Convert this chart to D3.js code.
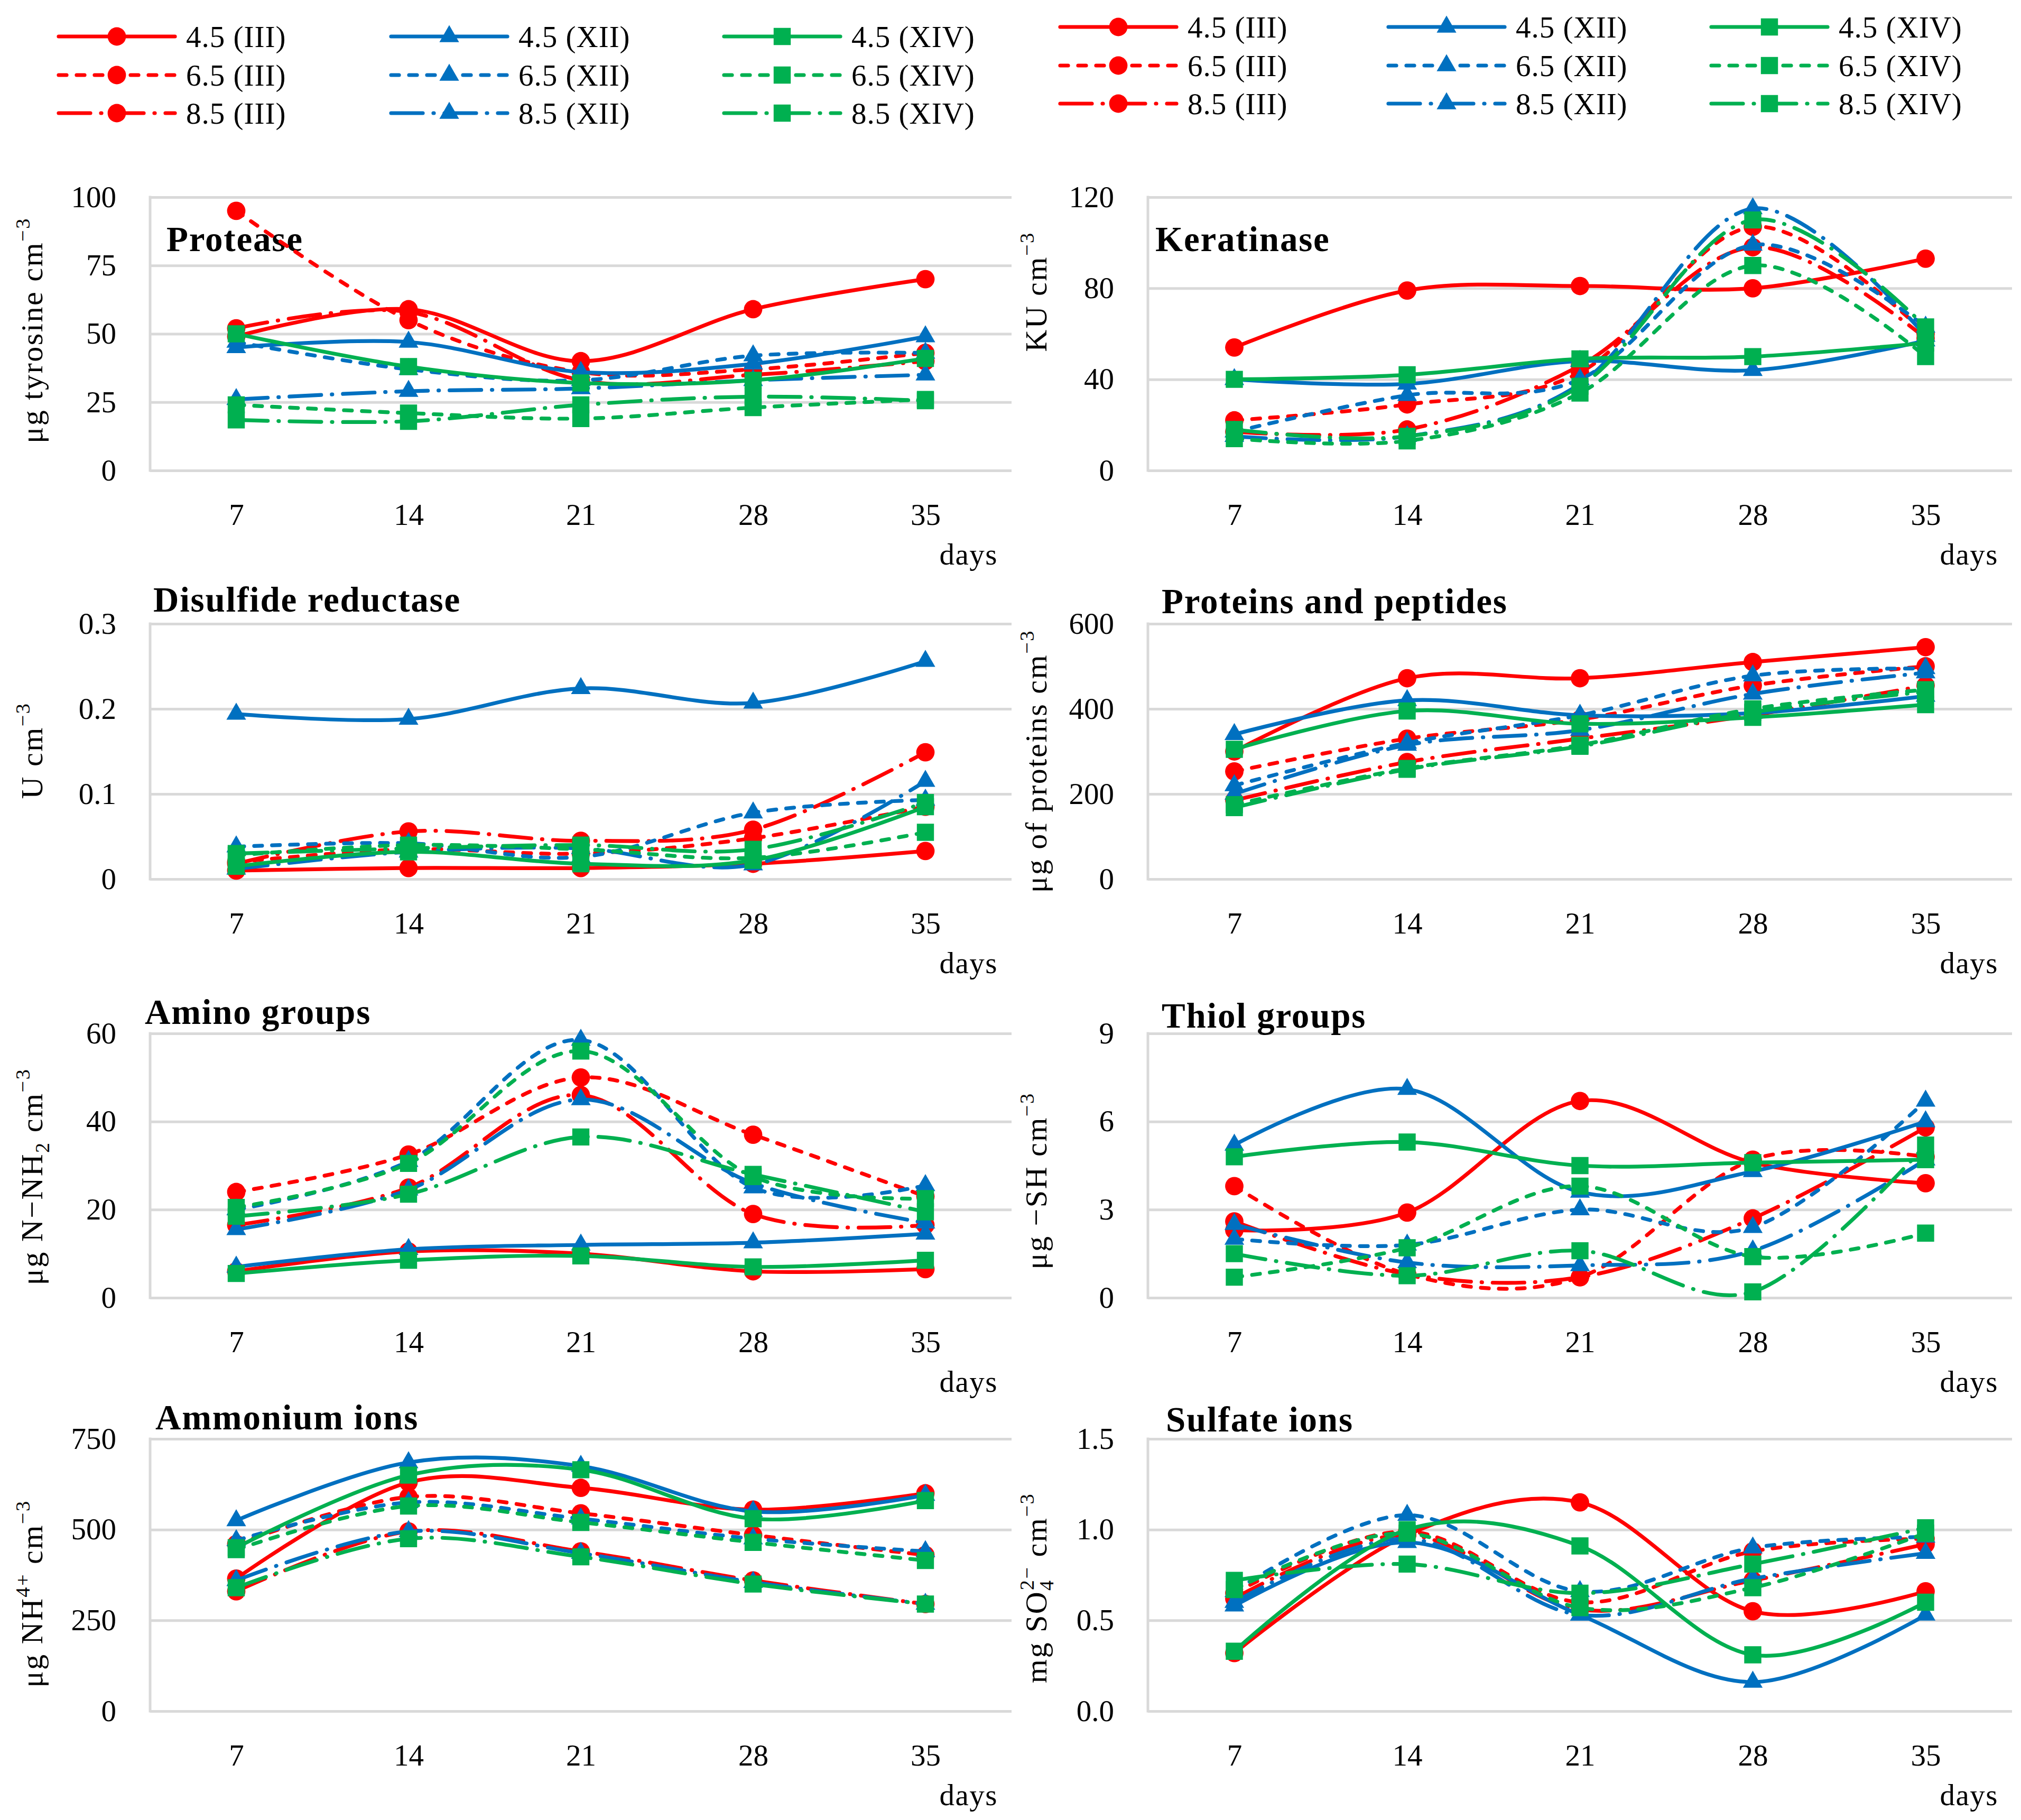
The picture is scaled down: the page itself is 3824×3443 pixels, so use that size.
<!DOCTYPE html>
<html>
<head>
<meta charset="utf-8">
<script src="https://cdn.jsdelivr.net/npm/d3@7"></script>
<style>
  body { margin: 0; background: #fff; }
  svg { display: block; }
  text { font-family: "Liberation Serif", "Times New Roman", serif; fill: #000; }
</style>
</head>
<body>
<div id="chart"></div>
<script>
// ---- data ----
const days = [7, 14, 21, 28, 35];

const seriesNames = [
  "4.5 (III)", "6.5 (III)", "8.5 (III)",
  "4.5 (XII)", "6.5 (XII)", "8.5 (XII)",
  "4.5 (XIV)", "6.5 (XIV)", "8.5 (XIV)"
];

// rows follow seriesNames
const protease = [
  [49, 59, 40, 59, 70],
  [95, 55, 36, 37, 43],
  [52, 58, 33, 35, 40],
  [45, 47, 36, 39, 49],
  [47, 37, 33, 42, 43],
  [26, 29, 30, 33, 35],
  [50, 38, 32, 33, 41],
  [24, 21, 19, 23, 26],
  [18.5, 18, 24, 27, 25.5]
];
const keratinase = [
  [54, 79, 81, 80, 93],
  [22, 29, 43, 107, 60],
  [17, 18, 46, 98, 58],
  [40, 38, 48, 44, 57],
  [17, 33, 40, 99, 63],
  [15, 15, 38, 115, 59],
  [40, 42, 49, 50, 56],
  [14, 13, 34, 90, 50],
  [18, 15, 37, 110, 63]
];
const disulfide = [
  [0.010, 0.013, 0.013, 0.018, 0.033],
  [0.020, 0.035, 0.030, 0.048, 0.085],
  [0.018, 0.056, 0.045, 0.058, 0.149],
  [0.194, 0.188, 0.224, 0.207, 0.256],
  [0.038, 0.042, 0.026, 0.078, 0.093],
  [0.012, 0.032, 0.036, 0.017, 0.115],
  [0.015, 0.032, 0.018, 0.022, 0.085],
  [0.028, 0.040, 0.035, 0.025, 0.055],
  [0.030, 0.036, 0.040, 0.035, 0.090]
];
const proteins = [
  [300, 472, 472, 510, 545],
  [253, 330, 375, 455, 500],
  [185, 275, 330, 385, 455],
  [340, 420, 385, 390, 430],
  [220, 320, 385, 478, 495],
  [200, 315, 350, 435, 485],
  [305, 395, 365, 380, 410],
  [175, 260, 315, 400, 445],
  [168, 258, 312, 392, 440]
];
const amino = [
  [6, 10.5, 10, 6, 6.5],
  [24, 32.5, 50, 37, 23],
  [16.5, 25, 46, 19, 16.5],
  [7, 11, 12, 12.5, 14.5],
  [20, 31, 58.5, 25, 25.5],
  [15.5, 24.5, 45, 26, 17],
  [5.5, 8.5, 9.5, 7, 8.5],
  [20.5, 30.5, 56, 27.5, 22.5],
  [18.5, 23.5, 36.5, 28, 19.5]
];
const thiol = [
  [2.3, 2.9, 6.7, 4.6, 3.9],
  [3.8, 0.8, 0.7, 4.7, 4.8],
  [2.6, 0.8, 0.7, 2.7, 5.8],
  [5.2, 7.1, 3.6, 4.3, 6.0],
  [2.0, 1.8, 3.0, 2.4, 6.7],
  [2.5, 1.2, 1.1, 1.6, 4.7],
  [4.8, 5.3, 4.5, 4.6, 4.7],
  [0.7, 1.7, 3.8, 1.4, 2.2],
  [1.5, 0.75, 1.6, 0.2, 5.2]
];
const ammonium = [
  [365, 630, 615, 555, 600],
  [460, 590, 545, 485, 430],
  [330, 495, 440, 360, 295],
  [525, 685, 675, 550, 595],
  [470, 575, 530, 475, 440],
  [360, 495, 435, 355, 295],
  [450, 650, 665, 530, 580],
  [445, 565, 520, 465, 415],
  [340, 475, 425, 350, 295]
];
const sulfate = [
  [0.32, 0.97, 1.15, 0.55, 0.66],
  [0.65, 0.99, 0.60, 0.88, 0.95],
  [0.62, 0.97, 0.56, 0.72, 0.92],
  [0.58, 0.93, 0.53, 0.16, 0.53],
  [0.66, 1.08, 0.66, 0.90, 0.96],
  [0.60, 0.95, 0.53, 0.73, 0.87],
  [0.33, 1.00, 0.91, 0.31, 0.60],
  [0.67, 0.98, 0.57, 0.68, 0.98],
  [0.72, 0.81, 0.65, 0.81, 1.01]
];

const proteaseTicks = [0, 25, 50, 75, 100];
const keratinaseTicks = [0, 40, 80, 120];
const disulfideTicks = [0, 0.1, 0.2, 0.3];
const proteinsTicks = [0, 200, 400, 600];
const aminoTicks = [0, 20, 40, 60];
const thiolTicks = [0, 3, 6, 9];
const ammoniumTicks = [0, 250, 500, 750];
const sulfateTicks = [0, 0.5, 1.0, 1.5];

// ---- styles ----
const colors = ["#FF0000", "#0070C0", "#00B050"];   // III, XII, XIV
const dashes = [null, "15 19", "60 20 1 20"];       // pH 4.5, 6.5, 8.5
const markers = [d3.symbolCircle, d3.symbolTriangle, d3.symbolSquare];
const markerSizes = [950, 600, 1050];
const lineW = 7.2;

const W = 3824, H = 3443;
const cols = [{ x: 284, w: 1630 }, { x: 2172, w: 1635 }];
const rows = [[373, 890], [1180, 1663], [1955, 2455], [2722, 3237]];

const panels = [
  { data: protease, ticks: proteaseTicks, fmt: d3.format("d"), col: 0, row: 0,
    title: "Protease", tx: 315, ty: 475,
    label: [["μg tyrosine cm"], ["−3", "sup"]], ly: 625 },
  { data: keratinase, ticks: keratinaseTicks, fmt: d3.format("d"), col: 1, row: 0,
    title: "Keratinase", tx: 2186, ty: 475,
    label: [["KU cm"], ["−3", "sup"]], ly: 552 },
  { data: disulfide, ticks: disulfideTicks, fmt: d => d === 0 ? "0" : d3.format(".1f")(d), col: 0, row: 1,
    title: "Disulfide reductase", tx: 290, ty: 1157,
    label: [["U cm"], ["−3", "sup"]], ly: 1420 },
  { data: proteins, ticks: proteinsTicks, fmt: d3.format("d"), col: 1, row: 1,
    title: "Proteins and peptides", tx: 2198, ty: 1160,
    label: [["μg of proteins cm"], ["−3", "sup"]], ly: 1440 },
  { data: amino, ticks: aminoTicks, fmt: d3.format("d"), col: 0, row: 2,
    title: "Amino groups", tx: 274, ty: 1937,
    label: [["μg N−NH"], ["2", "sub"], [" cm"], ["−3", "sup"]], ly: 2226 },
  { data: thiol, ticks: thiolTicks, fmt: d3.format("d"), col: 1, row: 2,
    title: "Thiol groups", tx: 2198, ty: 1944,
    label: [["μg −SH cm"], ["−3", "sup"]], ly: 2234 },
  { data: ammonium, ticks: ammoniumTicks, fmt: d3.format("d"), col: 0, row: 3,
    title: "Ammonium ions", tx: 294, ty: 2704,
    label: [["μg NH"], ["4+", "sup"], [" cm"], ["−3", "sup"]], ly: 3015 },
  { data: sulfate, ticks: sulfateTicks, fmt: d3.format(".1f"), col: 1, row: 3,
    title: "Sulfate ions", tx: 2206, ty: 2708,
    label: [["mg SO"], ["4", "sub"], ["2−", "supstack"], [" cm"], ["−3", "sup"]], ly: 3004 }
];

const svg = d3.select("#chart").append("svg")
  .attr("width", W).attr("height", H)
  .attr("viewBox", `0 0 ${W} ${H}`);

svg.append("rect").attr("width", W).attr("height", H).attr("fill", "#fff");

function labelText(g, parts, fs) {
  let shift = 0;
  parts.forEach(([t, kind]) => {
    const ts = g.append("tspan").text(t);
    let target = 0;
    let dx = 0;
    if (kind === "sup" || kind === "supstack") { target = -0.42 * fs; ts.attr("font-size", fs * 0.66); }
    if (kind === "sub") { target = 0.22 * fs; ts.attr("font-size", fs * 0.66); }
    if (kind === "supstack") dx = -0.36 * fs;
    ts.attr("dy", target - shift);
    if (dx) ts.attr("dx", dx);
    shift = target;
  });
}

panels.forEach(p => {
  const c = cols[p.col];
  const [top, bottom] = rows[p.row];
  const g = svg.append("g");

  const x = d3.scalePoint().domain(days).range([c.x, c.x + c.w]).padding(0.5);
  const y = d3.scaleLinear().domain([p.ticks[0], p.ticks[p.ticks.length - 1]]).range([bottom, top]);

  // gridlines + y tick labels
  const ya = g.append("g").attr("transform", `translate(${c.x},0)`)
    .call(d3.axisLeft(y).tickValues(p.ticks).tickFormat(p.fmt).tickSize(-c.w).tickPadding(64));
  ya.select(".domain").remove();
  ya.selectAll(".tick line").attr("stroke", "#d9d9d9").attr("stroke-width", 5);
  ya.selectAll(".tick text").attr("font-size", 57).attr("font-family", null).attr("fill", "#000");

  g.append("line")
    .attr("x1", c.x).attr("x2", c.x).attr("y1", top - 2.5).attr("y2", bottom + 2.5)
    .attr("stroke", "#d9d9d9").attr("stroke-width", 5);

  // x tick labels
  const xa = g.append("g").attr("transform", `translate(0,${bottom})`)
    .call(d3.axisBottom(x).tickSize(0).tickPadding(63));
  xa.select(".domain").remove();
  xa.selectAll(".tick text").attr("font-size", 57).attr("font-family", null).attr("fill", "#000");

  g.append("text")
    .attr("x", c.x + c.w - 26).attr("y", bottom + 178)
    .attr("text-anchor", "end").attr("font-size", 57).attr("letter-spacing", 1.5)
    .text("days");

  // title
  g.append("text")
    .attr("x", p.tx).attr("y", p.ty)
    .attr("font-size", 67).attr("font-weight", "bold").attr("letter-spacing", 1.8)
    .text(p.title);

  // y axis title
  const lx = p.col === 0 ? 80 : 1980;
  const lt = g.append("text")
    .attr("transform", `translate(${lx},${p.ly}) rotate(-90)`)
    .attr("text-anchor", "middle").attr("font-size", 58).attr("letter-spacing", 2.5);
  labelText(lt, p.label, 58);

  // series
  const line = d3.line()
    .x((d, i) => x(days[i]))
    .y(d => y(d))
    .curve(d3.curveCatmullRom.alpha(0));

  p.data.forEach((vals, i) => {
    const strain = Math.floor(i / 3), ph = i % 3;
    const s = g.append("g");
    s.append("path")
      .attr("d", line(vals))
      .attr("fill", "none")
      .attr("stroke", colors[strain])
      .attr("stroke-width", lineW)
      .attr("stroke-linecap", "round")
      .attr("stroke-dasharray", dashes[ph]);
    s.selectAll("path.m").data(vals).join("path")
      .attr("class", "m")
      .attr("transform", (d, j) => `translate(${x(days[j])},${y(d)})`)
      .attr("d", d3.symbol().type(markers[strain]).size(markerSizes[strain]))
      .attr("fill", colors[strain]);
  });
});

// ---- legends (two identical blocks) ----
const legends = [
  { xs: [111, 740, 1370], ys: [69, 142, 214] },
  { xs: [2006, 2627, 3238], ys: [51, 124, 196] }
];
legends.forEach(L => {
  seriesNames.forEach((name, i) => {
    const strain = Math.floor(i / 3), ph = i % 3;
    const x0 = L.xs[strain], y0 = L.ys[ph];
    const lg = svg.append("g");
    lg.append("line")
      .attr("x1", x0).attr("x2", x0 + 220).attr("y1", y0).attr("y2", y0)
      .attr("stroke", colors[strain]).attr("stroke-width", lineW)
      .attr("stroke-linecap", "round")
      .attr("stroke-dasharray", dashes[ph]);
    lg.append("path")
      .attr("transform", `translate(${x0 + 110},${y0})`)
      .attr("d", d3.symbol().type(markers[strain]).size(markerSizes[strain]))
      .attr("fill", colors[strain]);
    lg.append("text")
      .attr("x", x0 + 241).attr("y", y0 + 20)
      .attr("font-size", 57).attr("letter-spacing", 1)
      .text(name);
  });
});
</script>
</body>
</html>
